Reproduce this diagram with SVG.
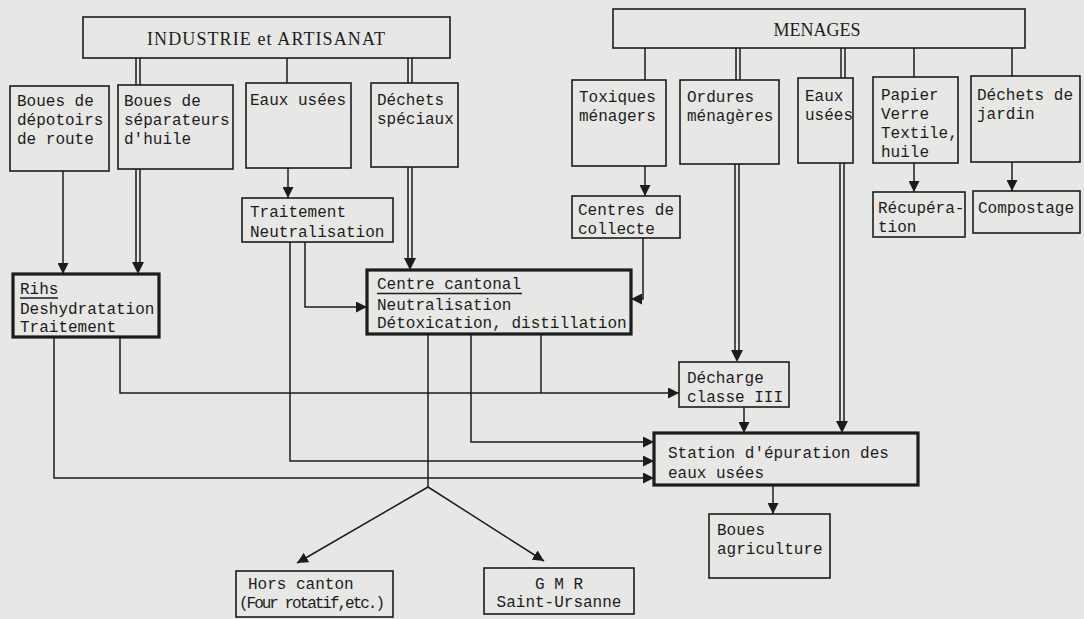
<svg xmlns="http://www.w3.org/2000/svg" width="1084" height="619" viewBox="0 0 1084 619">
<style>
.bx{fill:none;stroke:#1c1c1c;stroke-width:1.6}
.tk{fill:none;stroke:#1c1c1c;stroke-width:3.2}
.t{font-family:"Liberation Mono","DejaVu Sans Mono",monospace;font-size:16px;fill:#1c1c1c}
.s{font-family:"Liberation Serif","Times New Roman",serif;font-size:18px;fill:#1c1c1c}
.c{fill:none;stroke:#1c1c1c;stroke-width:1.5}
.h{fill:#1c1c1c;stroke:none}
.u{stroke:#1c1c1c;stroke-width:1.3}
</style>
<defs>
<marker id="ar" markerUnits="userSpaceOnUse" markerWidth="11" markerHeight="11" refX="11" refY="5.5" orient="auto">
<path d="M0,0 L11,5.5 L0,11 Z" fill="#1c1c1c"/>
</marker>
</defs>
<rect width="1084" height="619" fill="#e7e7e5"/>

<g id="industrie"><rect class="bx" x="83" y="17" width="367" height="41"/><text class="s" x="266" y="45" text-anchor="middle" textLength="238">INDUSTRIE et ARTISANAT</text></g>
<g id="menages"><rect class="bx" x="613" y="9" width="412" height="39"/><text class="s" x="817" y="36" text-anchor="middle">MENAGES</text></g>

<g id="boues-depotoirs"><rect class="bx" x="10" y="86" width="99" height="85"/><text class="t" x="17" y="106">Boues de</text><text class="t" x="17" y="125">dépotoirs</text><text class="t" x="17" y="144">de route</text></g>
<g id="boues-separateurs"><rect class="bx" x="118" y="85" width="115" height="84"/><text class="t" x="124" y="106">Boues de</text><text class="t" x="124" y="125">séparateurs</text><text class="t" x="124" y="144">d'huile</text></g>
<g id="eaux-usees-ind"><rect class="bx" x="246" y="83" width="105" height="85"/><text class="t" x="250" y="105">Eaux usées</text></g>
<g id="dechets-speciaux"><rect class="bx" x="371" y="83" width="87" height="84"/><text class="t" x="377" y="105">Déchets</text><text class="t" x="377" y="124">spéciaux</text></g>

<g id="toxiques"><rect class="bx" x="572" y="80" width="94" height="86"/><text class="t" x="579" y="102">Toxiques</text><text class="t" x="579" y="121">ménagers</text></g>
<g id="ordures"><rect class="bx" x="680" y="80" width="99" height="84"/><text class="t" x="687" y="102">Ordures</text><text class="t" x="687" y="121">ménagères</text></g>
<g id="eaux-usees-men"><rect class="bx" x="798" y="78" width="55" height="85"/><text class="t" x="805" y="101">Eaux</text><text class="t" x="805" y="120">usées</text></g>
<g id="papier"><rect class="bx" x="873" y="77" width="85" height="86"/><text class="t" x="881" y="100">Papier</text><text class="t" x="881" y="119">Verre</text><text class="t" x="881" y="138">Textile,</text><text class="t" x="881" y="157">huile</text></g>
<g id="jardin"><rect class="bx" x="971" y="76" width="109" height="86"/><text class="t" x="977" y="100">Déchets de</text><text class="t" x="977" y="119">jardin</text></g>

<g id="centres-collecte"><rect class="bx" x="572" y="196" width="108" height="42"/><text class="t" x="578" y="215">Centres de</text><text class="t" x="578" y="234">collecte</text></g>
<g id="recuperation"><rect class="bx" x="873" y="192" width="92" height="45"/><text class="t" x="878" y="213">Récupéra-</text><text class="t" x="878" y="232">tion</text></g>
<g id="compostage"><rect class="bx" x="973" y="191" width="107" height="42"/><text class="t" x="978" y="213">Compostage</text></g>
<g id="traitement-neutralisation"><rect class="bx" x="242" y="198" width="151" height="44"/><text class="t" x="250" y="217">Traitement</text><text class="t" x="250" y="237">Neutralisation</text></g>

<g id="rihs"><rect class="tk" x="13" y="274" width="146" height="63"/><text class="t" x="20" y="294">Rihs</text><line class="u" x1="20" y1="298" x2="58" y2="298"/><text class="t" x="20" y="314">Deshydratation</text><text class="t" x="20" y="332">Traitement</text></g>
<g id="centre-cantonal"><rect class="tk" x="367" y="270" width="264" height="64"/><text class="t" x="377" y="289">Centre cantonal</text><line class="u" x1="377" y1="293.5" x2="522" y2="293.5"/><text class="t" x="377" y="310">Neutralisation</text><text class="t" x="377" y="328">Détoxication, distillation</text></g>
<g id="decharge"><rect class="bx" x="679" y="362" width="110" height="45"/><text class="t" x="687" y="383">Décharge</text><text class="t" x="687" y="402">classe III</text></g>
<g id="station"><rect class="tk" x="654" y="433" width="264" height="52"/><text class="t" x="668" y="458">Station d'épuration des</text><text class="t" x="668" y="478">eaux usées</text></g>
<g id="boues-agriculture"><rect class="bx" x="709" y="514" width="121" height="64"/><text class="t" x="717" y="535">Boues</text><text class="t" x="717" y="554">agriculture</text></g>
<g id="hors-canton"><rect class="bx" x="236" y="571" width="157" height="46"/><text class="t" x="248" y="589">Hors canton</text><text class="t" x="239" y="608" textLength="146">(Four rotatif,etc.)</text></g>
<g id="gmr"><rect class="bx" x="484" y="568" width="150" height="46"/><text class="t" x="559" y="589" text-anchor="middle">G M R</text><text class="t" x="559" y="607" text-anchor="middle">Saint-Ursanne</text></g>

<g id="connectors">
<path class="c" d="M287,58 V83 M645,48 V80 M914,48 V77 M1012,48 V76"/>
<path class="c" d="M136,58 V85 M140,58 V85 M408,58 V83 M412,58 V83 M736,48 V80 M740,48 V80 M841,48 V78 M845,48 V78"/>
<path class="c" d="M136,169 V263 M140,169 V263"/><path class="h" d="M132,262 L144,262 L138,274 Z"/>
<path class="c" d="M408,167 V259 M412,167 V259"/><path class="h" d="M404,258 L416,258 L410,270 Z"/>
<path class="c" d="M735,164 V351 M739,164 V351"/><path class="h" d="M731,350 L743,350 L737,362 Z"/>
<path class="c" d="M840,163 V422 M844,163 V422"/><path class="h" d="M836,421 L848,421 L842,433 Z"/>
<path class="c" marker-end="url(#ar)" d="M63,171 V274"/>
<path class="c" marker-end="url(#ar)" d="M288,168 V198"/>
<path class="c" marker-end="url(#ar)" d="M305,242 V307 H367"/>
<path class="c" marker-end="url(#ar)" d="M645,166 V196"/>
<path class="c" marker-end="url(#ar)" d="M643,238 V299 H631"/>
<path class="c" marker-end="url(#ar)" d="M914,163 V192"/>
<path class="c" marker-end="url(#ar)" d="M1012,162 V191"/>
<path class="c" marker-end="url(#ar)" d="M120,337 V393 H679"/>
<path class="c" d="M541,334 V393"/>
<path class="c" marker-end="url(#ar)" d="M471,334 V442 H654"/>
<path class="c" marker-end="url(#ar)" d="M290,242 V461 H654"/>
<path class="c" marker-end="url(#ar)" d="M54,337 V478 H654"/>
<path class="c" marker-end="url(#ar)" d="M744,407 V433"/>
<path class="c" marker-end="url(#ar)" d="M773,485 V514"/>
<path class="c" d="M428,334 V487"/>
<path class="c" marker-end="url(#ar)" d="M428,487 L297,563"/>
<path class="c" marker-end="url(#ar)" d="M428,487 L544,561"/>
</g>
</svg>
